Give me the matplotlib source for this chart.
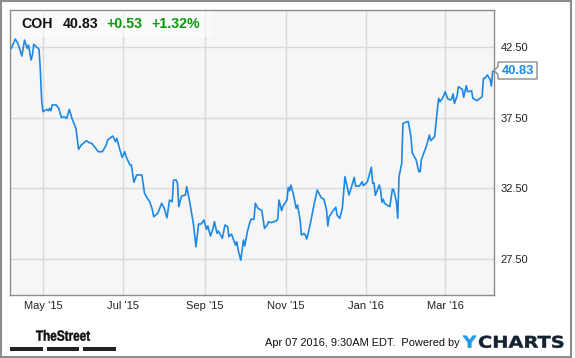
import pandas as pd
import matplotlib
matplotlib.use('Agg')
import matplotlib.pyplot as plt
from matplotlib.patches import Rectangle, Polygon, PathPatch
from matplotlib.textpath import TextPath
from matplotlib.font_manager import FontProperties
from matplotlib.transforms import Affine2D, IdentityTransform

# COH daily close
dates = [
    '2015-04-07', '2015-04-10', '2015-04-12', '2015-04-15', '2015-04-17', '2015-04-19',
    '2015-04-20', '2015-04-22', '2015-04-23', '2015-04-24', '2015-04-26', '2015-04-28',
    '2015-04-29', '2015-04-30', '2015-05-01', '2015-05-04', '2015-05-05', '2015-05-06',
    '2015-05-07', '2015-05-08', '2015-05-11', '2015-05-13', '2015-05-15', '2015-05-17',
    '2015-05-19', '2015-05-21', '2015-05-23', '2015-05-26', '2015-05-28', '2015-05-30',
    '2015-06-03', '2015-06-05', '2015-06-07', '2015-06-12', '2015-06-15', '2015-06-18',
    '2015-06-19', '2015-06-23', '2015-06-25', '2015-06-26', '2015-06-28', '2015-06-30',
    '2015-07-02', '2015-07-03', '2015-07-06', '2015-07-07', '2015-07-09', '2015-07-11',
    '2015-07-15', '2015-07-17', '2015-07-20', '2015-07-21', '2015-07-23', '2015-07-24',
    '2015-07-27', '2015-07-30', '2015-08-01', '2015-08-03', '2015-08-05', '2015-08-07',
    '2015-08-08', '2015-08-10', '2015-08-11', '2015-08-12', '2015-08-14', '2015-08-17',
    '2015-08-18', '2015-08-20', '2015-08-23', '2015-08-25', '2015-08-27', '2015-08-29',
    '2015-08-31', '2015-09-02', '2015-09-03', '2015-09-05', '2015-09-07', '2015-09-08',
    '2015-09-10', '2015-09-11', '2015-09-12', '2015-09-14', '2015-09-16', '2015-09-18',
    '2015-09-19', '2015-09-20', '2015-09-21', '2015-09-24', '2015-09-25', '2015-09-26',
    '2015-09-28', '2015-09-30', '2015-10-01', '2015-10-03', '2015-10-05', '2015-10-06',
    '2015-10-08', '2015-10-09', '2015-10-11', '2015-10-14', '2015-10-15', '2015-10-16',
    '2015-10-18', '2015-10-19', '2015-10-21', '2015-10-23', '2015-10-25', '2015-10-26',
    '2015-10-27', '2015-10-29', '2015-10-30', '2015-11-02', '2015-11-03', '2015-11-04',
    '2015-11-05', '2015-11-07', '2015-11-09', '2015-11-10', '2015-11-12', '2015-11-13',
    '2015-11-15', '2015-11-16', '2015-11-17', '2015-11-19', '2015-11-21', '2015-11-23',
    '2015-11-25', '2015-11-28', '2015-11-30', '2015-12-02', '2015-12-03', '2015-12-04',
    '2015-12-07', '2015-12-09', '2015-12-10', '2015-12-12', '2015-12-14', '2015-12-16',
    '2015-12-19', '2015-12-21', '2015-12-23', '2015-12-24', '2015-12-27', '2015-12-29',
    '2015-12-30', '2016-01-02', '2016-01-05', '2016-01-06', '2016-01-07', '2016-01-08',
    '2016-01-11', '2016-01-12', '2016-01-13', '2016-01-14', '2016-01-15', '2016-01-19',
    '2016-01-21', '2016-01-22', '2016-01-24', '2016-01-25', '2016-01-26', '2016-01-28',
    '2016-01-29', '2016-02-01', '2016-02-02', '2016-02-04', '2016-02-05', '2016-02-08',
    '2016-02-10', '2016-02-11', '2016-02-12', '2016-02-16', '2016-02-18', '2016-02-19',
    '2016-02-22', '2016-02-24', '2016-02-25', '2016-02-26', '2016-02-28', '2016-03-01',
    '2016-03-03', '2016-03-05', '2016-03-06', '2016-03-07', '2016-03-08', '2016-03-10',
    '2016-03-11', '2016-03-14', '2016-03-15', '2016-03-17', '2016-03-18', '2016-03-21',
    '2016-03-22', '2016-03-25', '2016-03-29', '2016-03-30', '2016-03-31', '2016-04-02',
    '2016-04-04', '2016-04-05', '2016-04-06', '2016-04-07',
]
prices = [
    42.39, 43.04, 42.74, 41.84, 42.97, 42.39, 42.62, 41.56, 41.91, 42.67, 42.50, 42.32,
    40.86, 38.74, 37.91, 38.08, 37.98, 38.15, 37.98, 38.39, 38.39, 38.15, 37.50, 37.56,
    37.44, 38.08, 37.44, 36.74, 35.26, 35.56, 35.87, 35.73, 35.68, 35.09, 35.09, 35.56,
    35.92, 36.20, 35.80, 36.03, 35.33, 34.70, 35.09, 34.74, 34.15, 34.15, 32.93, 33.45,
    33.45, 32.15, 31.68, 31.56, 30.98, 30.50, 30.74, 31.45, 31.10, 30.43, 31.68, 31.56,
    33.09, 33.09, 32.86, 31.21, 31.96, 32.03, 32.62, 31.68, 30.04, 28.39, 29.99, 29.99,
    30.27, 29.61, 29.85, 29.14, 29.68, 30.15, 29.33, 29.49, 29.33, 28.98, 29.92, 29.80,
    29.09, 29.21, 29.26, 28.50, 28.74, 28.15, 27.44, 28.86, 28.44, 29.45, 30.15, 30.34,
    30.32, 31.45, 31.10, 30.93, 30.27, 29.68, 29.92, 30.15, 30.08, 30.15, 30.22, 30.32,
    31.68, 30.93, 31.26, 31.68, 32.58, 32.34, 32.74, 32.03, 31.10, 31.33, 30.27, 29.21,
    29.33, 29.21, 28.93, 29.68, 30.62, 31.56, 32.39, 31.84, 31.75, 30.98, 29.85, 30.50,
    30.93, 31.17, 30.62, 30.39, 31.10, 33.33, 32.03, 32.62, 33.28, 32.67, 32.67, 32.97,
    32.69, 32.97, 33.99, 32.86, 32.90, 32.01, 32.74, 32.39, 31.52, 31.73, 31.45, 31.21,
    32.46, 32.39, 31.56, 30.39, 33.33, 34.27, 37.09, 37.21, 37.21, 36.15, 35.02, 34.50,
    33.68, 33.68, 34.55, 35.56, 36.27, 35.87, 36.15, 38.03, 38.86, 38.62, 38.86, 39.32,
    38.81, 38.74, 38.86, 39.17, 38.50, 39.02, 39.68, 39.49, 38.93, 39.75, 39.32, 39.39,
    38.86, 38.69, 38.97, 40.27, 40.27, 40.50, 40.20, 39.73, 40.74, 40.83,
]
ytick_values = [27.5, 32.5, 37.5, 42.5]
xtick_dates = ['2015-05-01', '2015-07-01', '2015-09-01', '2015-11-01', '2016-01-01', '2016-03-01']
xtick_labels = ["May '15", "Jul '15", "Sep '15", "Nov '15", "Jan '16", "Mar '16"]

ticker = 'COH'
last = '40.83'
change = '+0.53'
pct = '+1.32%'

W, H = 575, 358
LINE = '#1e88e5'
GREEN = '#0a9a0a'

plt.rcParams['font.family'] = ['Liberation Sans', 'DejaVu Sans']

fig = plt.figure(figsize=(W / 100, H / 100), dpi=100)
fig.patch.set_facecolor('white')


def fx(x):
    return x / W


def fy(y):
    return 1 - y / H


def boxed_text(s, x0, x1, top, base, color, family='Liberation Sans'):
    # draw bold text stretched to fit a pixel box (logos)
    path = TextPath((0, 0), s, size=20, prop=FontProperties(family=family, weight='bold'))
    ext = path.get_extents()
    sx = (x1 - x0) / ext.width
    sy = (base - top) / ext.y1
    tr = Affine2D().translate(-ext.x0, 0).scale(sx, sy).translate(x0, H - base)
    fig.patches.append(PathPatch(tr.transform_path(path), transform=IdentityTransform(),
                                 facecolor=color, edgecolor=color, linewidth=0.3))


# plot area in pixels: x 10..494, y 10..295
ax = fig.add_axes([fx(10), fy(295), (494 - 10) / W, (295 - 10) / H])
ax.set_facecolor('#f6f6f6')

x = pd.to_datetime(dates)
ax.plot(x, prices, color=LINE, linewidth=1.2, zorder=3, solid_joinstyle='round')

ax.set_xlim(pd.Timestamp('2015-04-06'), pd.Timestamp('2016-04-07'))
ax.set_ylim(24.98, 45.09)

ax.set_yticks(ytick_values)
ax.set_yticklabels([f'{v:.2f}' for v in ytick_values])
ax.yaxis.tick_right()
ax.set_xticks(pd.to_datetime(xtick_dates))
ax.set_xticklabels(xtick_labels)
ax.tick_params(axis='both', length=0, labelsize=8, colors='#222222')
ax.tick_params(axis='y', pad=4.5)
ax.tick_params(axis='x', pad=4)

ax.grid(True, color='#d9d9d9', linewidth=1)
ax.set_axisbelow(True)
for s in ax.spines.values():
    s.set_color('#8c8c8c')
    s.set_linewidth(1)

# header box with ticker and change
ax.add_patch(Rectangle((fx(10), fy(37)), (212 - 10) / W, 27 / H, transform=fig.transFigure,
                       facecolor='white', alpha=0.55, edgecolor='none', zorder=2))
hdr = dict(fontsize=10.2, fontweight='bold', va='center')
fig.text(fx(21.5), fy(24), ticker, color='#111111', **hdr)
fig.text(fx(62.5), fy(24), last, color='#111111', **hdr)
fig.text(fx(106.5), fy(24), change, color=GREEN, **hdr)
fig.text(fx(151.5), fy(24), pct, color=GREEN, **hdr)

# last price tag
tag = Polygon([(fx(494), fy(70.5)), (fx(498), fy(66.5)), (fx(498), fy(62)), (fx(537), fy(62)),
               (fx(537), fy(79)), (fx(498), fy(79)), (fx(498), fy(74.5))],
              closed=True, transform=fig.transFigure, facecolor='white',
              edgecolor='#8c8c8c', linewidth=1, zorder=5)
fig.patches.append(tag)
fig.text(fx(517.5), fy(70.7), last, fontsize=9.3, fontweight='bold', color=LINE,
         ha='center', va='center', zorder=6)

# footer
boxed_text('TheStreet', 36, 90, 330, 340.7, '#111111')
for x0, x1 in [(10, 42.7), (47, 79.3), (83.3, 116)]:
    fig.patches.append(Rectangle((fx(x0), fy(350.7)), (x1 - x0) / W, 3.4 / H,
                                 transform=fig.transFigure, facecolor='#222222',
                                 edgecolor='none'))
fig.text(fx(460), fy(343.5), 'Apr 07 2016, 9:30AM EDT.  Powered by', fontsize=7.9,
         color='#111111', ha='right', va='center')
boxed_text('Y', 462.7, 476.5, 335.7, 347.7, '#1e9be6', family='DejaVu Sans')
boxed_text('CHARTS', 479, 563.3, 335.7, 347.7, '#152232', family='DejaVu Sans')

# outer frame
fig.patches.append(Rectangle((fx(1), fy(357)), 570 / W, 356 / H, transform=fig.transFigure,
                             facecolor='none', edgecolor='#8c8c8c', linewidth=1.5))

fig.savefig('out.png', dpi=100)
